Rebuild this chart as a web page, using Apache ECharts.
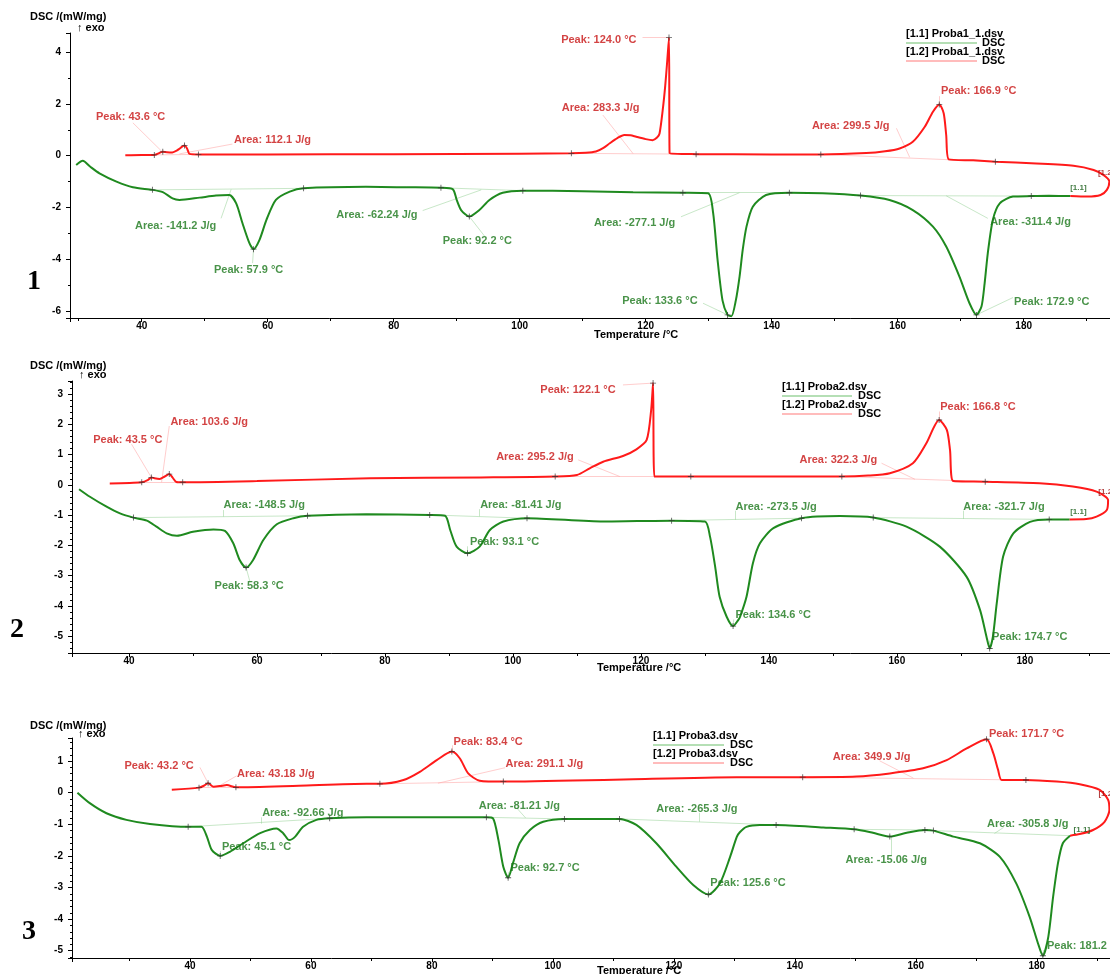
<!DOCTYPE html>
<html>
<head>
<meta charset="utf-8">
<title>DSC</title>
<script src="https://cdn.jsdelivr.net/npm/echarts@6/dist/echarts.min.js"></script>
<style>
html, body { margin: 0; padding: 0; background: #fff; }
#chart { width: 1110px; height: 974px; }
</style>
</head>
<body>
<div id="chart"></div>
<script>
// ---- panel 1 : Proba1_1 ----
const p1Red = [[37.4,0.02],[40,0.03],[42,0.03],[43.35,0.15],[44.7,0.12],[45.7,0.22],[46.8,0.39],[47.2,0.28],[47.6,0.07],[49,0.05],[60,0.05],[80,0.06],[100,0.08],
  [108.2,0.09],[110.5,0.11],[112.1,0.16],[113.3,0.3],[114.3,0.48],[115.5,0.68],[116.6,0.8],[117.6,0.79],[118.5,0.73],[120,0.64],[121.1,0.6],[121.8,0.7],[122.2,0.86],[122.7,1.76],[123.1,2.7],[123.4,3.6],[123.7,4.57],[123.8,0.09],
  [128,0.06],[140,0.05],[147.8,0.05],[155,0.1],[158,0.17],[160.3,0.28],[162.4,0.54],[164.3,1.12],[165.6,1.7],[166.6,1.98],[167.3,1.64],[167.7,0.8],[168.1,-0.14],
  [172,-0.18],[175.5,-0.23],[182,-0.3],[187.9,-0.39],[191.1,-0.55],[192.7,-0.75],[193.6,-1.0],[193.2,-1.32],[192.2,-1.52],[190.1,-1.58],[187.4,-1.56]];
const p1Green = [[29.6,-0.36],[30.65,-0.2],[31.8,-0.42],[33.3,-0.68],[36,-1.0],[38.6,-1.22],[41.7,-1.32],[43.35,-1.41],[44.9,-1.65],[46,-1.71],[49.2,-1.62],[51.8,-1.54],[53.9,-1.52],
  [55,-1.84],[56,-2.61],[57.1,-3.38],[57.75,-3.61],[58.7,-3.25],[59.8,-2.48],[61.3,-1.71],[63.5,-1.39],[65.7,-1.26],[75.6,-1.2],[82,-1.22],[87.5,-1.24],
  [89.4,-1.3],[90,-1.71],[90.7,-2.1],[92,-2.35],[93.6,-2.1],[95.2,-1.71],[97.3,-1.43],[100.5,-1.35],[110,-1.37],[118,-1.41],[125.9,-1.43],
  [129.9,-1.45],[130.7,-2.2],[131.4,-4.0],[132.2,-5.6],[133,-6.15],[133.6,-6.2],[134.3,-5.6],[134.9,-4.67],[135.4,-3.64],[136,-2.74],[137,-1.97],[139.1,-1.52],[142.8,-1.43],
  [148.1,-1.45],[154.1,-1.54],[158.7,-1.71],[162.4,-2.1],[165.6,-2.74],[167.7,-3.51],[169.8,-4.67],[171.4,-5.7],[172.5,-6.15],[173.3,-5.83],[173.8,-4.93],[174.3,-3.77],
  [175.1,-2.48],[176.2,-1.84],[178.3,-1.58],[181.2,-1.56],[184,-1.55],[187.4,-1.56]];
const p1RedMarks = [[42,0.03],[43.35,0.15],[46.8,0.39],[49,0.05],[108.2,0.09],[123.7,4.57],[128,0.06],[147.8,0.05],[166.6,1.98],[175.5,-0.23]];
const p1GreenMarks = [[41.7,-1.32],[57.75,-3.61],[65.7,-1.26],[87.5,-1.24],[92,-2.35],[100.5,-1.35],[125.9,-1.43],[133,-6.15],[142.8,-1.43],[154.1,-1.54],[172.5,-6.15],[181.2,-1.56]];
const p1Base = [['r',[42,0.03],[49,0.05]],['r',[108.2,0.09],[128,0.06]],['r',[147.8,0.05],[175.5,-0.23]],
  ['g',[41.7,-1.32],[65.7,-1.26]],['g',[87.5,-1.24],[100.5,-1.35]],['g',[125.9,-1.43],[142.8,-1.43]],['g',[154.1,-1.54],[181.2,-1.56]]];
// text, label x, label y, leader from (x, y), leader to (x, y), colour
const p1Notes = [
  ['Peak: 43.6 °C', 32.67, 1.49, 38.6, 1.27, 43.35, 0.13, 'r'],
  ['Area: 112.1 J/g', 54.57, 0.61, 54.4, 0.45, 46.0, 0.07, 'r'],
  ['Peak: 124.0 °C', 106.5, 4.47, 119.5, 4.57, 123.7, 4.57, 'r'],
  ['Area: 283.3 J/g', 106.6, 1.84, 113.2, 1.57, 118.0, 0.08, 'r'],
  ['Area: 299.5 J/g', 146.3, 1.15, 159.8, 1.06, 161.9, -0.06, 'r'],
  ['Peak: 166.9 °C', 166.8, 2.5, 166.6, 2.3, 166.6, 1.98, 'r'],
  ['Area: -141.2 J/g', 38.86, -2.71, 52.6, -2.42, 54.2, -1.3, 'g'],
  ['Peak: 57.9 °C', 51.4, -4.41, 57.6, -4.15, 57.75, -3.61, 'g'],
  ['Area: -62.24 J/g', 70.8, -2.29, 84.6, -2.12, 93.9, -1.32, 'g'],
  ['Peak: 92.2 °C', 87.7, -3.29, 94.4, -3.1, 92.0, -2.35, 'g'],
  ['Area: -277.1 J/g', 111.7, -2.6, 125.6, -2.36, 134.9, -1.43, 'g'],
  ['Peak: 133.6 °C', 116.2, -5.6, 129.1, -5.7, 133.0, -6.15, 'g'],
  ['Area: -311.4 J/g', 174.6, -2.56, 174.3, -2.42, 167.7, -1.55, 'g'],
  ['Peak: 172.9 °C', 178.4, -5.64, 178.3, -5.48, 172.5, -6.15, 'g']
];
const p1Tags = [['[1.1]', 187.3, -1.25, 'g'], ['[1.2', 191.7, -0.67, 'r']];

// ---- panel 2 : Proba2 ----
const p2Red = [[37,0.05],[42,0.09],[43,0.17],[43.5,0.25],[44,0.22],[44.8,0.2],[45.6,0.28],[46.3,0.36],[46.8,0.25],[47.4,0.1],[48.4,0.09],[60,0.13],[77.7,0.22],[95,0.25],
  [106.6,0.28],[110,0.33],[112,0.55],[114.1,0.77],[117.2,0.96],[119.3,1.18],[120.9,1.49],[121.6,2.48],[121.9,3.37],[122.1,0.28],
  [127.8,0.28],[140,0.28],[151.4,0.28],[155.5,0.31],[158.9,0.39],[162.5,0.72],[164.6,1.38],[166.6,2.15],[167.8,1.82],[168.3,1.16],[168.8,0.13],
  [173.8,0.11],[182.3,0.06],[187.5,-0.05],[191.2,-0.22],[193,-0.5],[192.8,-0.83],[191.2,-1.05],[189.6,-1.13],[187,-1.14]];
const p2Green = [[32.2,-0.14],[33.9,-0.39],[36.5,-0.72],[38.6,-0.94],[40.7,-1.08],[42.8,-1.18],[44.3,-1.38],[45.9,-1.6],[47.5,-1.68],[50,-1.55],[53.2,-1.47],[55,-1.52],
  [56.3,-1.93],[57.3,-2.48],[58.3,-2.73],[59.4,-2.48],[61,-1.82],[63.1,-1.3],[65.7,-1.1],[67.9,-1.02],[77.1,-0.97],[87,-0.99],
  [89.4,-1.02],[90.2,-1.49],[91.2,-2.04],[92.9,-2.26],[94.8,-2.04],[96.4,-1.49],[98.5,-1.21],[102.2,-1.1],[114.1,-1.21],[124.8,-1.18],
  [130,-1.21],[130.8,-1.71],[131.6,-2.7],[132.3,-3.7],[133.4,-4.36],[134.4,-4.67],[135.2,-4.47],[135.5,-4.36],[136.5,-3.7],[137.5,-2.59],[138.6,-1.93],[140.7,-1.43],
  [145.1,-1.1],[151.1,-1.03],[156.3,-1.08],[161.5,-1.38],[166.7,-2.04],[170.9,-3.04],[173,-4.14],[174,-5.02],[174.5,-5.41],[175,-5.02],[175.6,-3.92],[176.6,-2.37],
  [178.2,-1.6],[180.8,-1.22],[183.8,-1.14],[187,-1.14]];
const p2RedMarks = [[42,0.09],[43.5,0.25],[46.3,0.36],[48.4,0.09],[106.6,0.28],[121.9,3.37],[127.8,0.28],[151.4,0.28],[166.6,2.15],[173.8,0.11]];
const p2GreenMarks = [[40.7,-1.08],[58.3,-2.73],[67.9,-1.02],[87,-0.99],[92.9,-2.26],[102.2,-1.1],[124.8,-1.18],[134.4,-4.67],[145.1,-1.1],[156.3,-1.08],[174.5,-5.41],[183.8,-1.14]];
const p2Base = [['r',[42,0.09],[48.4,0.09]],['r',[106.6,0.28],[127.8,0.28]],['r',[151.4,0.28],[173.8,0.11]],
  ['g',[40.7,-1.08],[67.9,-1.02]],['g',[87,-0.99],[102.2,-1.1]],['g',[124.8,-1.18],[145.1,-1.1]],['g',[156.3,-1.08],[183.8,-1.14]]];
const p2Notes = [
  ['Peak: 43.5 °C', 34.33, 1.49, 40.4, 1.35, 43.5, 0.25, 'r'],
  ['Area: 103.6 J/g', 46.4, 2.1, 46.3, 1.95, 45.1, 0.09, 'r'],
  ['Peak: 122.1 °C', 104.2, 3.15, 117.2, 3.31, 121.9, 3.37, 'r'],
  ['Area: 295.2 J/g', 97.3, 0.94, 110.2, 0.83, 116.7, 0.28, 'r'],
  ['Area: 322.3 J/g', 144.7, 0.83, 157.6, 0.72, 162.8, 0.19, 'r'],
  ['Peak: 166.8 °C', 166.7, 2.57, 166.6, 2.43, 166.6, 2.15, 'r'],
  ['Area: -148.5 J/g', 54.7, -0.66, 54.7, -0.83, 54.7, -1.05, 'g'],
  ['Peak: 58.3 °C', 53.3, -3.33, 58.9, -3.2, 58.3, -2.73, 'g'],
  ['Area: -81.41 J/g', 94.8, -0.66, 94.8, -0.8, 94.8, -1.04, 'g'],
  ['Peak: 93.1 °C', 93.2, -1.88, 92.9, -2.03, 92.9, -2.26, 'g'],
  ['Area: -273.5 J/g', 134.7, -0.72, 134.7, -0.85, 134.7, -1.15, 'g'],
  ['Peak: 134.6 °C', 134.7, -4.3, 134.5, -4.45, 134.4, -4.67, 'g'],
  ['Area: -321.7 J/g', 170.3, -0.72, 170.3, -0.85, 170.3, -1.12, 'g'],
  ['Peak: 174.7 °C', 174.8, -5.02, 174.5, -5.15, 174.5, -5.41, 'g']
];
const p2Tags = [['[1.1]', 187.0, -0.88, 'g'], ['[1.2', 191.4, -0.22, 'r']];

// ---- panel 3 : Proba3 ----
const p3Red = [[37,0.09],[41.5,0.16],[42.3,0.22],[43,0.3],[43.9,0.19],[45,0.21],[46.1,0.24],[47.6,0.17],[58,0.22],[69.2,0.28],[71.4,0.28],
  [75.3,0.4],[78,0.66],[80.8,1.03],[83.3,1.3],[84.6,1.09],[86,0.61],[87.9,0.38],[91.8,0.35],[110,0.41],[130.4,0.49],
  [141.3,0.49],[150.2,0.51],[155.7,0.61],[161.2,0.77],[165.1,1.03],[168.4,1.4],[171.7,1.69],[172.8,1.25],[173.6,0.72],[174.2,0.4],
  [178.2,0.4],[183.3,0.35],[187.1,0.27],[190.4,0.09],[191.8,-0.23],[192,-0.55],[191.2,-0.92],[189.3,-1.18],[187.1,-1.31],[185.5,-1.36]];
const p3Green = [[21.4,0],[23.5,-0.34],[26.2,-0.65],[29.5,-0.86],[33.4,-0.99],[39.7,-1.08],[41.9,-1.08],[42.8,-1.39],[43.6,-1.81],[45,-2.0],[46.6,-1.87],[48.8,-1.6],
  [51.6,-1.28],[54.3,-1.13],[55.4,-1.28],[56.4,-1.5],[57.4,-1.39],[58.7,-1.08],[60.9,-0.86],[63.1,-0.81],[69.2,-0.78],[89,-0.78],
  [90.1,-0.81],[91,-1.5],[91.8,-2.34],[92.6,-2.69],[93.4,-2.23],[94.5,-1.6],[96.2,-1.18],[98.4,-0.92],[101.9,-0.83],[111,-0.83],
  [113.8,-1.02],[117.1,-1.6],[120.4,-2.34],[123.2,-2.92],[125.7,-3.22],[127.6,-2.87],[129.3,-2.03],[130.4,-1.4],[130.9,-1.25],[132,-1.08],[134.2,-1.02],[136.9,-1.02],
  [144.7,-1.1],[149.8,-1.16],[152.9,-1.27],[155.7,-1.39],[158.5,-1.27],[161.5,-1.18],[162.9,-1.2],[166.2,-1.39],[170.6,-1.6],[173.9,-2.03],[176.6,-2.87],[178.8,-3.92],
  [180.2,-4.77],[181,-5.16],[181.9,-4.56],[182.7,-3.29],[183.5,-2.23],[184.3,-1.6],[185.5,-1.36]];
const p3RedMarks = [[41.5,0.16],[43,0.3],[47.6,0.17],[71.4,0.28],[83.3,1.3],[91.8,0.35],[141.3,0.49],[171.7,1.69],[178.2,0.4]];
const p3GreenMarks = [[39.7,-1.08],[45,-2.0],[63.1,-0.81],[89,-0.78],[92.6,-2.69],[101.9,-0.83],[111,-0.83],[125.7,-3.22],[136.9,-1.02],[149.8,-1.16],[155.7,-1.39],[161.5,-1.18],[162.9,-1.2],[181,-5.16]];
const p3Base = [['r',[41.5,0.16],[47.6,0.17]],['r',[71.4,0.28],[91.8,0.35]],['r',[141.3,0.49],[178.2,0.4]],
  ['g',[39.7,-1.08],[63.1,-0.81]],['g',[89,-0.78],[101.9,-0.83]],['g',[111,-0.83],[136.9,-1.02]],['g',[149.8,-1.16],[161.5,-1.18]],['g',[162.9,-1.2],[185.5,-1.36]]];
const p3Notes = [
  ['Peak: 43.2 °C', 29.1, 0.85, 41.65, 0.8, 43.0, 0.3, 'r'],
  ['Area: 43.18 J/g', 47.7, 0.59, 47.7, 0.53, 44.7, 0.2, 'r'],
  ['Peak: 83.4 °C', 83.5, 1.61, 83.3, 1.5, 83.3, 1.3, 'r'],
  ['Area: 291.1 J/g', 92.1, 0.91, 92.1, 0.79, 81.0, 0.3, 'r'],
  ['Area: 349.9 J/g', 146.2, 1.14, 154.0, 1.01, 159.6, 0.46, 'r'],
  ['Peak: 171.7 °C', 172.0, 1.86, 171.8, 1.78, 171.7, 1.69, 'r'],
  ['Area: -92.66 J/g', 51.85, -0.65, 51.85, -0.78, 51.85, -0.98, 'g'],
  ['Peak: 45.1 °C', 45.2, -1.71, 45.0, -1.85, 45.0, -2.0, 'g'],
  ['Area: -81.21 J/g', 87.65, -0.41, 94.0, -0.48, 95.5, -0.8, 'g'],
  ['Peak: 92.7 °C', 92.9, -2.37, 92.6, -2.52, 92.6, -2.69, 'g'],
  ['Area: -265.3 J/g', 117.0, -0.52, 124.2, -0.64, 124.2, -0.92, 'g'],
  ['Peak: 125.6 °C', 125.95, -2.87, 125.7, -3.02, 125.7, -3.22, 'g'],
  ['Area: -15.06 J/g', 148.3, -2.13, 156.0, -1.98, 156.0, -1.39, 'g'],
  ['Area: -305.8 J/g', 171.7, -0.99, 174.5, -1.1, 173.0, -1.29, 'g'],
  ['Peak: 181.2 °C', 181.6, -4.85, 181.0, -4.98, 181.0, -5.16, 'g']
];
const p3Tags = [['[1.1]', 186.0, -1.16, 'g'], ['[1.2', 190.1, -0.04, 'r']];

const RED = '#ff1a1a', RED_TXT = '#c81414', RED_THIN = '#ff9c9c';
const GRN = '#1f8a1f', GRN_TXT = '#1b781b', GRN_THIN = '#92cf92';
const FONT = '"Liberation Sans", Arial, sans-serif';
const PLUS = 'path://M3,0H4V7H3Z M0,3H7V4H0Z';

const panels = [
  {red: p1Red, green: p1Green, rm: p1RedMarks, gm: p1GreenMarks, base: p1Base, notes: p1Notes, tags: p1Tags,
   grid: {left: 70, top: 33, width: 1040, height: 285}, x: [28.62, 193.7], y: [-6.27, 4.74], ySplit: 5, yMinor: 2},
  {red: p2Red, green: p2Green, rm: p2RedMarks, gm: p2GreenMarks, base: p2Base, notes: p2Notes, tags: p2Tags,
   grid: {left: 72, top: 381, width: 1038, height: 272}, x: [31.1, 193.3], y: [-5.56, 3.44], ySplit: 9, yMinor: 5},
  {red: p3Red, green: p3Green, rm: p3RedMarks, gm: p3GreenMarks, base: p3Base, notes: p3Notes, tags: p3Tags,
   grid: {left: 72, top: 738, width: 1038, height: 220}, x: [20.5, 192.1], y: [-5.23, 1.73], ySplit: 7, yMinor: 5}
];

const tickLabel = {color: '#000', fontFamily: FONT, fontWeight: 'bold', fontSize: 10,
  showMinLabel: false, showMaxLabel: false};

const grids = [], xAxes = [], yAxes = [], series = [];
panels.forEach((p, i) => {
  grids.push(Object.assign({containLabel: false}, p.grid));
  xAxes.push({type: 'value', gridIndex: i, min: p.x[0], max: p.x[1], splitNumber: 8,
    axisLine: {show: true, onZero: false, lineStyle: {color: '#000', width: 1}},
    axisTick: {show: true, length: 4, lineStyle: {color: '#000'}},
    minorTick: {show: true, splitNumber: 2, length: 3, lineStyle: {color: '#000'}},
    splitLine: {show: false},
    axisLabel: Object.assign({margin: 3}, tickLabel)});
  yAxes.push({type: 'value', gridIndex: i, min: p.y[0], max: p.y[1], splitNumber: p.ySplit,
    axisLine: {show: true, onZero: false, lineStyle: {color: '#000', width: 1}},
    axisTick: {show: true, length: 4, lineStyle: {color: '#000'}},
    minorTick: {show: true, splitNumber: p.yMinor, length: 2, lineStyle: {color: '#000'}},
    splitLine: {show: false},
    axisLabel: Object.assign({margin: 9}, tickLabel)});

  const ax = {xAxisIndex: i, yAxisIndex: i};
  // integration baselines
  series.push(Object.assign({type: 'lines', coordinateSystem: 'cartesian2d', silent: true, z: 1,
    data: p.base.map(b => ({coords: [b[1], b[2]], lineStyle: {color: b[0] === 'r' ? RED_THIN : GRN_THIN, width: 1}}))}, ax));
  // leader lines of the labels
  series.push(Object.assign({type: 'lines', coordinateSystem: 'cartesian2d', silent: true, z: 1,
    data: p.notes.map(n => ({coords: [[n[3], n[4]], [n[5], n[6]]], lineStyle: {color: n[7] === 'r' ? RED_THIN : GRN_THIN, width: 1}}))}, ax));
  // curves
  series.push(Object.assign({type: 'line', data: p.green, showSymbol: false, smooth: 0.25, clip: false, z: 3,
    lineStyle: {color: GRN, width: 2}}, ax));
  series.push(Object.assign({type: 'line', data: p.red, showSymbol: false, smooth: 0.25, clip: false, z: 3,
    lineStyle: {color: RED, width: 2}}, ax));
  // small + markers on the curves
  series.push(Object.assign({type: 'scatter', data: p.rm.concat(p.gm), symbol: PLUS, symbolSize: 6, z: 4,
    itemStyle: {color: '#333'}}, ax));
  // annotation texts
  const txt = p.notes.map(n => ({value: [n[1], n[2]], name: n[0],
    label: {color: n[7] === 'r' ? RED_TXT : GRN_TXT}}))
    .concat(p.tags.map(t => ({value: [t[1], t[2]], name: t[0],
      label: {color: t[3] === 'r' ? '#a01010' : '#145a14', fontSize: 8}})));
  series.push(Object.assign({type: 'scatter', data: txt, symbolSize: 1, z: 5, clip: false,
    itemStyle: {color: 'rgba(0,0,0,0)'},
    label: {show: true, position: 'right', distance: 0, formatter: '{b}', fontFamily: FONT,
      fontWeight: 'bold', fontSize: 11}}, ax));
});

// fixed texts: unit titles, panel numbers, axis names, legends
const graphic = [];
function txt(x, y, s, opt) {
  graphic.push({type: 'text', left: x, top: y, silent: true,
    style: Object.assign({text: s, fill: '#000', font: 'bold 11px ' + FONT}, opt || {})});
}
function seg(x1, y1, x2, y2, c) {
  graphic.push({type: 'line', silent: true, shape: {x1: x1, y1: y1, x2: x2, y2: y2}, style: {stroke: c, lineWidth: 1.2}});
}
const titleTops = [11, 360, 720];
const exoTops = [22, 369, 728];
const exoLefts = [77, 79, 78];
titleTops.forEach((t, i) => {
  txt(30, t, 'DSC /(mW/mg)');
  txt(exoLefts[i], exoTops[i], '↑ exo');
});
txt(27, 268, '1', {font: 'bold 28px "Liberation Serif", serif'});
txt(10, 616, '2', {font: 'bold 28px "Liberation Serif", serif'});
txt(22, 918, '3', {font: 'bold 28px "Liberation Serif", serif'});
txt(594, 329, 'Temperature /°C');
txt(597, 662, 'Temperature /°C');
txt(597, 965, 'Temperature /°C');

const legends = [
  {x: 906, y: 28, lineEnd: 977, dsc: 982, name: 'Proba1_1.dsv'},
  {x: 782, y: 381, lineEnd: 852, dsc: 858, name: 'Proba2.dsv'},
  {x: 653, y: 730, lineEnd: 724, dsc: 730, name: 'Proba3.dsv'}
];
legends.forEach(l => {
  txt(l.x, l.y, '[1.1] ' + l.name);
  seg(l.x, l.y + 15, l.lineEnd, l.y + 15, '#6cc06c');
  txt(l.dsc, l.y + 9, 'DSC');
  txt(l.x, l.y + 18, '[1.2] ' + l.name);
  seg(l.x, l.y + 33, l.lineEnd, l.y + 33, '#ff7a7a');
  txt(l.dsc, l.y + 27, 'DSC');
});

const chart = echarts.init(document.getElementById('chart'));
chart.setOption({
  animation: false,
  backgroundColor: '#fff',
  grid: grids,
  xAxis: xAxes,
  yAxis: yAxes,
  series: series,
  graphic: graphic
});
</script>
</body>
</html>
